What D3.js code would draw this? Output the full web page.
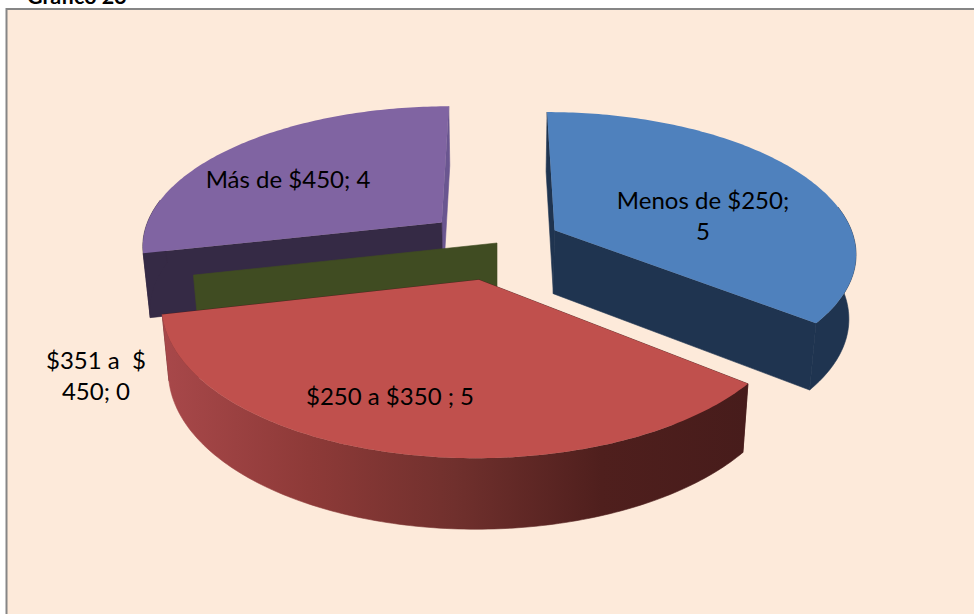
<!DOCTYPE html>
<html>
<head>
<meta charset="utf-8">
<script src="https://cdn.jsdelivr.net/npm/d3@7"></script>
<style>
html, body { margin: 0; padding: 0; background: #fff; overflow: hidden; }
text { font-family: Lato, "Open Sans", sans-serif; fill: #000; white-space: pre; }
</style>
</head>
<body>
<svg id="viz" width="974" height="614"></svg>
<script>
var title = "Gráfico 23";
var categories = ["Menos de $250", "$250 a $350 ", "$351 a  $450", "Más de $450"];
var values = [5, 5, 0, 4];
var topColors = ["#4f81bd", "#c0504d", "#9bbb59", "#8064a2"];
var wallColors = ["#1f3450", "#4d1f1e", "#404c22", "#352a45"];
var sliverColors = ["#1f3450", "#4d1f1e", "#404c22", "#6a5690"];
var explosion = [0.215, 0.26, 0, 0.24];
// label lines, wrapped the way the chart wraps them
var labelLines = [
    ["Menos de $250;", "5"],
    ["$250 a $350 ; 5"],
    ["$351 a  $", "450; 0"],
    ["Más de $450; 4"]
];
var labelX = [703, 390, 96, 288];
var labelY = [209, 405, 369, 188];

var redStops = [
    [0, "#a8484a"], [0.25, "#8e3a38"], [0.5, "#70302d"], [0.75, "#4f1f1d"], [1, "#471c1b"]
];

var view = { cx: 497, cy: 243, radius: 301, tilt: 139.4, persp: 0.15, height: 64, shrink: 0.02 };

var svg = d3.select("#viz");

function project(u, v, z) {
    var k = 1 / (1 - view.persp * v);
    var s = 1 - view.shrink * z;
    return [view.cx + view.radius * u * k * s, view.cy + view.tilt * v * k + view.height * z * Math.sqrt(k)];
}

var pie = d3.pie().sort(null).value(function (d) { return d; });
var slices = pie(values).map(function (s, i) {
    var mid = (s.startAngle + s.endAngle) / 2;
    s.ou = explosion[i] * Math.sin(mid);
    s.ov = -explosion[i] * Math.cos(mid);
    return s;
});

function rimPoints(s, z, from, to) {
    var n = Math.max(2, Math.ceil((to - from) * 60));
    return d3.range(n + 1).map(function (j) {
        var a = from + (to - from) * j / n;
        return project(s.ou + Math.sin(a), s.ov - Math.cos(a), z);
    });
}

var line = d3.line();

function radialWall(s, a) {
    return [
        project(s.ou, s.ov, 0),
        project(s.ou + Math.sin(a), s.ov - Math.cos(a), 0),
        project(s.ou + Math.sin(a), s.ov - Math.cos(a), 1),
        project(s.ou, s.ov, 1)
    ];
}

svg.append("rect")
    .attr("x", 6.5).attr("y", 9)
    .attr("width", 980).attr("height", 620)
    .attr("fill", "#fdeada")
    .attr("stroke", "#868686")
    .attr("stroke-width", 2);

svg.append("text")
    .attr("x", 27).attr("y", 4)
    .attr("font-size", 21.5).attr("font-weight", "bold")
    .text(title);

var defs = svg.append("defs");
var redRim = rimPoints(slices[1], 0, slices[1].startAngle, slices[1].endAngle);
var grad = defs.append("linearGradient")
    .attr("id", "redSide")
    .attr("gradientUnits", "userSpaceOnUse")
    .attr("x1", d3.min(redRim, function (p) { return p[0]; })).attr("y1", 0)
    .attr("x2", d3.max(redRim, function (p) { return p[0]; })).attr("y2", 0);
grad.selectAll("stop").data(redStops).enter().append("stop")
    .attr("offset", function (d) { return d[0]; })
    .attr("stop-color", function (d) { return d[1]; });

function wall(g, pts, color) {
    g.append("path").attr("d", line(pts) + "Z")
        .attr("fill", color).attr("stroke", color).attr("stroke-width", 0.6);
}

// only the front of the rim can be seen
var frontFrom = 80 * Math.PI / 180;
var frontTo = 280 * Math.PI / 180;

// painter's order: back slices first, the red one in front of everything
[3, 0, 2, 1].forEach(function (i) {
    var s = slices[i];
    var g = svg.append("g");
    if (s.endAngle === s.startAngle) {
        // zero value: only a flat wall is left
        wall(g, radialWall(s, s.startAngle), wallColors[i]);
        return;
    }
    wall(g, radialWall(s, s.endAngle), sliverColors[i]);
    wall(g, radialWall(s, s.startAngle), wallColors[i]);
    var from = Math.max(s.startAngle, frontFrom);
    var to = Math.min(s.endAngle, frontTo);
    var top = rimPoints(s, 0, from, to);
    var bottom = rimPoints(s, 1, from, to).reverse();
    wall(g, top.concat(bottom), i === 1 ? "url(#redSide)" : wallColors[i]);
    g.append("path")
        .attr("d", line([project(s.ou, s.ov, 0)].concat(rimPoints(s, 0, s.startAngle, s.endAngle))) + "Z")
        .attr("fill", topColors[i]);
});

var labels = svg.append("g").selectAll("text").data(labelLines).enter().append("text")
    .attr("text-anchor", "middle")
    .attr("font-size", 24)
    .attr("y", function (d, i) { return labelY[i]; });
labels.selectAll("tspan").data(function (d, i) {
    return d.map(function (t) { return { t: t, x: labelX[i] }; });
}).enter().append("tspan")
    .attr("x", function (d) { return d.x; })
    .attr("dy", function (d, j) { return j ? 30.5 : 0; })
    .text(function (d) { return d.t; });
</script>
</body>
</html>
